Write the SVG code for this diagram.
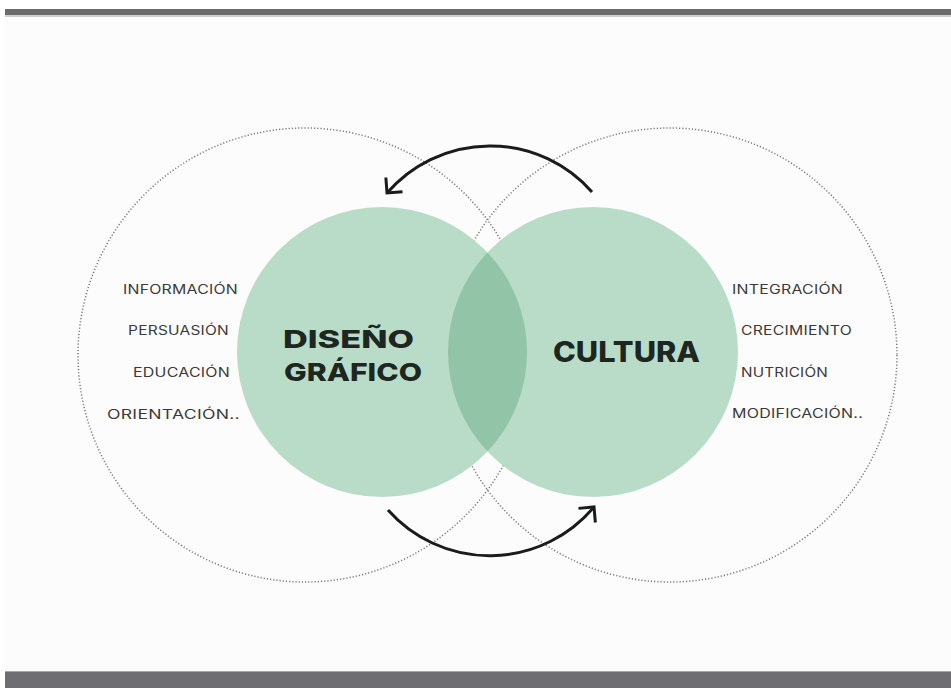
<svg xmlns="http://www.w3.org/2000/svg" width="951" height="688" viewBox="0 0 951 688">
  <style>
    .bg { fill: #fcfcfc; }
    .dotted { fill: none; stroke: #7a7a7a; stroke-width: 1.5; stroke-dasharray: 1.2 2; }
    .green { fill: #b9dcc9; }
    .lens { fill: #92c5a8; }
    .arc { fill: none; stroke: #1b1b1b; stroke-width: 3; }
    .label { font-family: Inter, "Open Sans", "Liberation Sans", sans-serif; font-size: 12.5px; fill: #3a3a3a; letter-spacing: 0.2px; }
    .title { font-family: Inter, "Open Sans", "Liberation Sans", sans-serif; font-weight: 800; fill: #1d2620; }
  </style>
  <defs>
    <marker id="chev" markerUnits="userSpaceOnUse" markerWidth="30" markerHeight="30" refX="0" refY="0" viewBox="-15 -15 30 30" orient="auto" overflow="visible">
      <path d="M -11 -11 L 0 0 L -11 11" fill="none" stroke="#1b1b1b" stroke-width="3" stroke-linejoin="miter"/>
    </marker>
  </defs>

  <rect x="0" y="0" width="951" height="688" fill="#ffffff"/>
  <rect class="bg" x="5" y="15" width="946" height="656"/>
  <rect x="5" y="9" width="946" height="6" fill="#6b6b6b"/>
  <rect x="5" y="15" width="946" height="2" fill="#cfcfcf"/>
  <rect x="5" y="671" width="946" height="1" fill="#a6a6aa"/>
  <rect x="5" y="672" width="946" height="16" fill="#6e6d72"/>

  <g id="outer-left">
    <circle class="dotted" cx="305" cy="355" r="227"/>
  </g>
  <g id="outer-right">
    <circle class="dotted" cx="670" cy="355" r="227"/>
  </g>

  <g id="node-diseno">
    <circle class="green" cx="382" cy="352" r="145"/>
    <text class="title" x="283" y="348" font-size="25" textLength="131" lengthAdjust="spacingAndGlyphs">DISEÑO</text>
    <text class="title" x="284" y="381" font-size="25" textLength="138" lengthAdjust="spacingAndGlyphs">GRÁFICO</text>
  </g>
  <g id="node-cultura">
    <circle class="green" cx="593" cy="352" r="145"/>
  </g>
  <g id="intersection">
    <path class="lens" d="M 487.5 252.5 A 145 145 0 0 1 487.5 451.5 A 145 145 0 0 1 487.5 252.5 Z"/>
  </g>
  <g id="label-cultura">
    <text class="title" x="553" y="362" font-size="28" textLength="147" lengthAdjust="spacingAndGlyphs">CULTURA</text>
  </g>

  <g id="left-list">
    <text class="label" x="123" y="294" textLength="115" lengthAdjust="spacingAndGlyphs">INFORMACIÓN</text>
    <text class="label" x="128" y="335" textLength="101" lengthAdjust="spacingAndGlyphs">PERSUASIÓN</text>
    <text class="label" x="133" y="377" textLength="97" lengthAdjust="spacingAndGlyphs">EDUCACIÓN</text>
    <text class="label" x="107" y="419" textLength="133" lengthAdjust="spacingAndGlyphs">ORIENTACIÓN..</text>
  </g>
  <g id="right-list">
    <text class="label" x="732" y="294" textLength="111" lengthAdjust="spacingAndGlyphs">INTEGRACIÓN</text>
    <text class="label" x="741" y="335" textLength="111" lengthAdjust="spacingAndGlyphs">CRECIMIENTO</text>
    <text class="label" x="741" y="377" textLength="87" lengthAdjust="spacingAndGlyphs">NUTRICIÓN</text>
    <text class="label" x="732" y="418" textLength="131" lengthAdjust="spacingAndGlyphs">MODIFICACIÓN..</text>
  </g>

  <g id="connectors">
    <path class="arc" d="M 592 192 A 136 136 0 0 0 387 193" marker-end="url(#chev)"/>
    <path class="arc" d="M 388 510 A 136 136 0 0 0 594 507" marker-end="url(#chev)"/>
  </g>
</svg>
